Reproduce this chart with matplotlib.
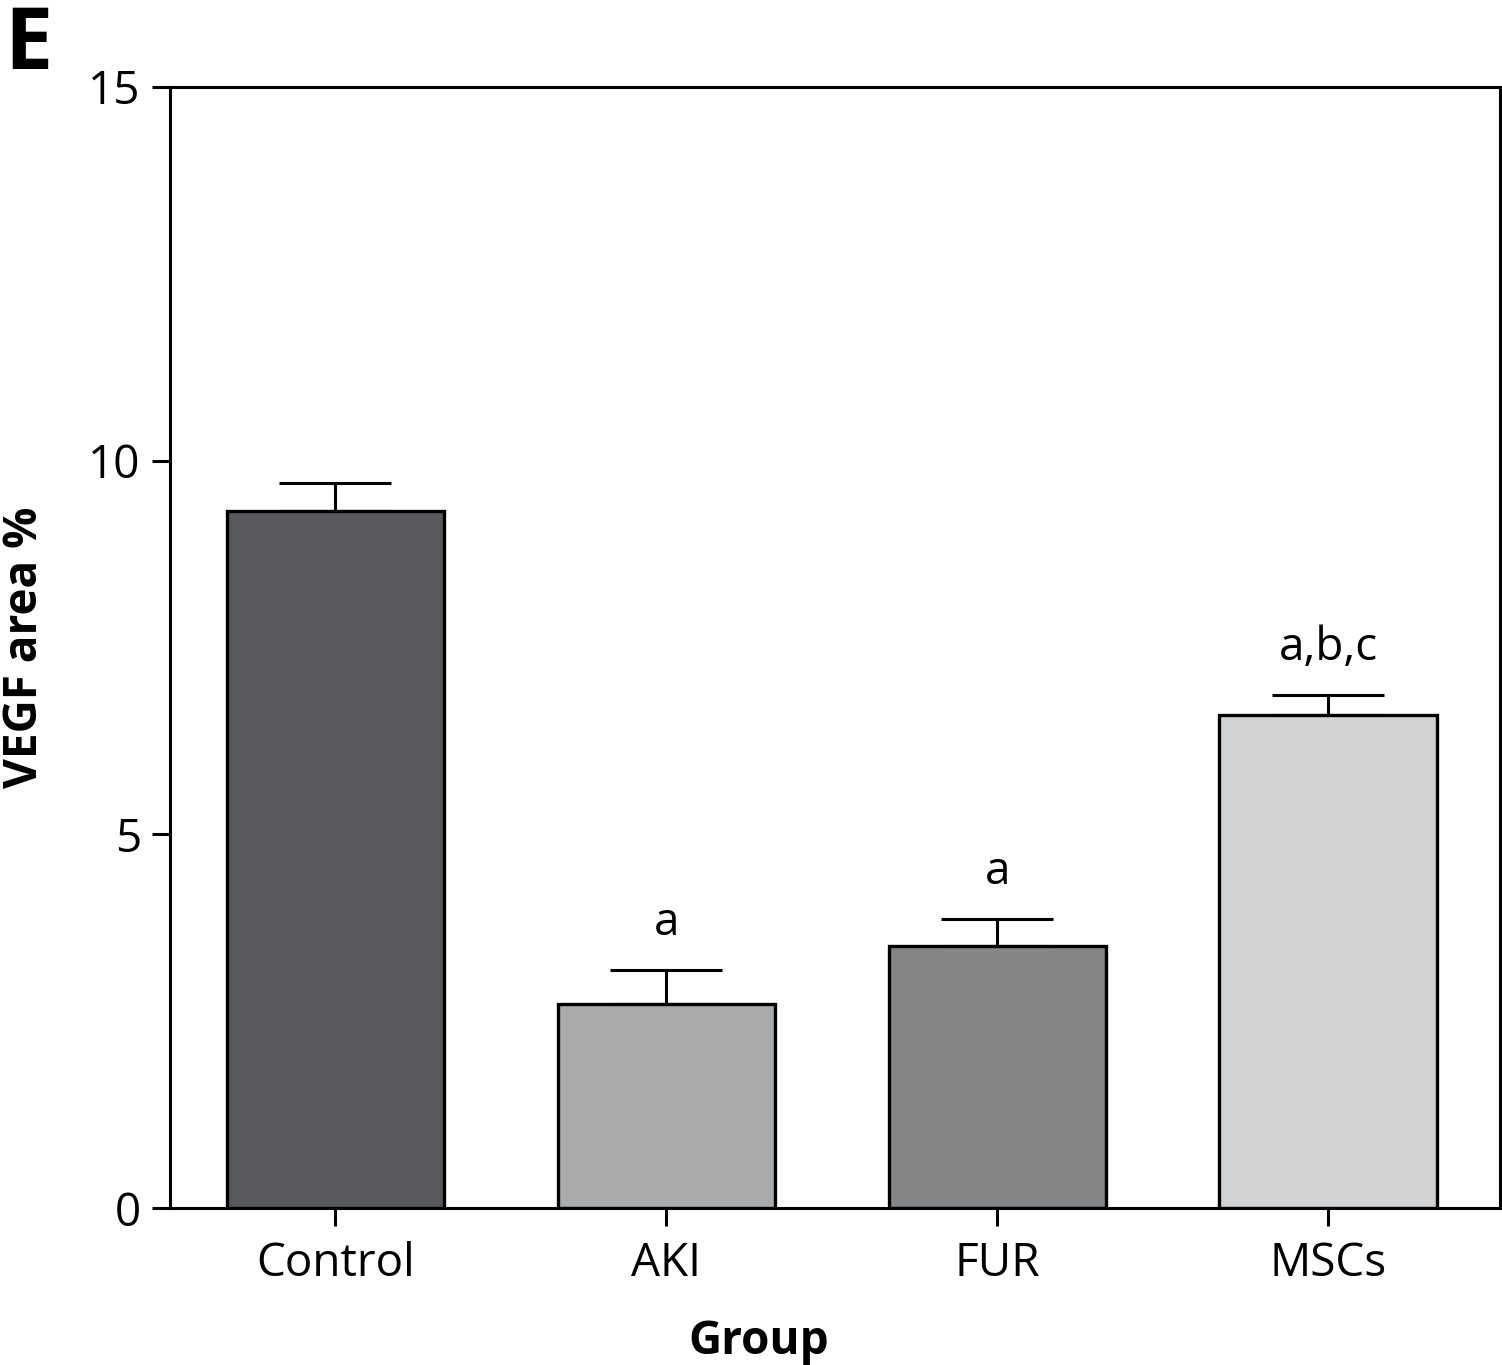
import matplotlib
matplotlib.use("Agg")
import matplotlib.pyplot as plt

groups = ["Control", "AKI", "FUR", "MSCs"]
means = [9.33, 2.73, 3.51, 6.60]
errors = [0.37, 0.45, 0.36, 0.27]
labels = ["", "a", "a", "a,b,c"]
colors = ["#58595c", "#a9aaac", "#848587", "#d1d2d4"]
yticks = [0, 5, 10, 15]

plt.rcParams['font.family'] = ['Open Sans', 'DejaVu Sans']

fig = plt.figure(figsize=(15.02, 13.65), dpi=100)
ax = fig.add_axes([0.1132, 0.1150, 0.8855, 0.8213])

x = list(range(len(groups)))
ax.bar(x, means, width=0.656, color=colors, edgecolor="black", linewidth=2.4, zorder=2)
ax.errorbar(x, means, yerr=[[0]*len(errors), errors], fmt="none", ecolor="black",
            elinewidth=2.2, capsize=40, capthick=2.2, zorder=1)

for xi, m, e, lab in zip(x, means, errors, labels):
    if lab:
        ax.text(xi, m + e + 0.32, lab, ha="center", va="bottom", fontsize=33)

ax.set_xlim(-0.5, 3.52)
ax.set_ylim(0, 15)
ax.set_yticks(yticks)
ax.set_xticks(x)
ax.set_xticklabels(groups)
for s in ax.spines.values():
    s.set_linewidth(2.2)
ax.tick_params(axis="both", which="major", length=13, width=2.2, labelsize=33, direction="out")
ax.tick_params(axis="y", pad=8)
ax.tick_params(axis="x", pad=11)

ax.set_ylabel("VEGF area %", fontsize=33, fontweight="bold", labelpad=29)
ax.set_xlabel("Group", fontsize=33, fontweight="bold")
ax.xaxis.set_label_coords((759 - 170) / 1330, -0.098)

fig.text(0.003, 0.998, "E", fontsize=62, fontweight="bold", ha="left", va="top")

fig.savefig("out.png", dpi=100)
